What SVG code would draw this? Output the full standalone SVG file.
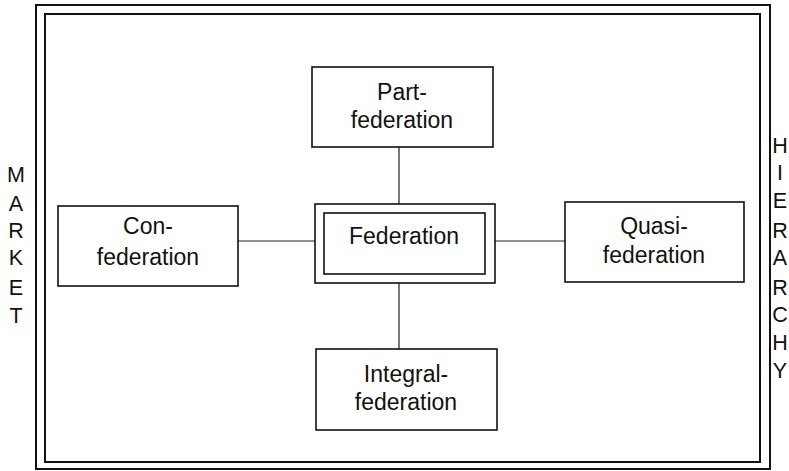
<svg xmlns="http://www.w3.org/2000/svg" width="789" height="471" viewBox="0 0 789 471">
<style>
.frame{fill:none;stroke:#111;stroke-width:2}
.box{fill:#fff;stroke:#111;stroke-width:1.6}
.conn{fill:none;stroke:#222;stroke-width:1.2}
text{font-family:"Liberation Sans",Arial,sans-serif;font-size:23px;fill:#111;text-anchor:middle}
.side{font-size:21.5px}
</style>
<rect width="789" height="471" fill="#fff"/>
<g id="frame">
<rect class="frame" x="36" y="5" width="734" height="464"/>
<rect class="frame" x="45" y="14" width="715" height="448"/>
</g>
<g id="connectors">
<line class="conn" x1="399" y1="147" x2="399" y2="204"/>
<line class="conn" x1="399" y1="283" x2="399" y2="349"/>
<line class="conn" x1="238" y1="241" x2="315" y2="241"/>
<line class="conn" x1="495" y1="241" x2="565" y2="241"/>
</g>
<g id="part-federation">
<rect class="box" x="312" y="67" width="181" height="80"/>
<text x="402" y="100">Part-</text>
<text x="402" y="128">federation</text>
</g>
<g id="con-federation">
<rect class="box" x="58" y="206" width="180" height="80"/>
<text x="148" y="234">Con-</text>
<text x="148" y="265">federation</text>
</g>
<g id="federation">
<rect class="box" x="315" y="204" width="180" height="79"/>
<rect class="box" x="324" y="213" width="161" height="61"/>
<text x="404" y="244">Federation</text>
</g>
<g id="quasi-federation">
<rect class="box" x="565" y="202" width="179" height="80"/>
<text x="654" y="234">Quasi-</text>
<text x="654" y="263">federation</text>
</g>
<g id="integral-federation">
<rect class="box" x="316" y="349" width="181" height="81"/>
<text x="406" y="382">Integral-</text>
<text x="406" y="410">federation</text>
</g>
<g id="market">
<text class="side" x="16" y="182">M</text>
<text class="side" x="16" y="211">A</text>
<text class="side" x="16" y="238">R</text>
<text class="side" x="16" y="265">K</text>
<text class="side" x="16" y="295">E</text>
<text class="side" x="16" y="323">T</text>
</g>
<g id="hierarchy">
<text class="side" x="780" y="153">H</text>
<text class="side" x="780" y="180">I</text>
<text class="side" x="780" y="208">E</text>
<text class="side" x="780" y="238">R</text>
<text class="side" x="780" y="265">A</text>
<text class="side" x="780" y="295">R</text>
<text class="side" x="780" y="322">C</text>
<text class="side" x="780" y="350">H</text>
<text class="side" x="780" y="378">Y</text>
</g>
</svg>
